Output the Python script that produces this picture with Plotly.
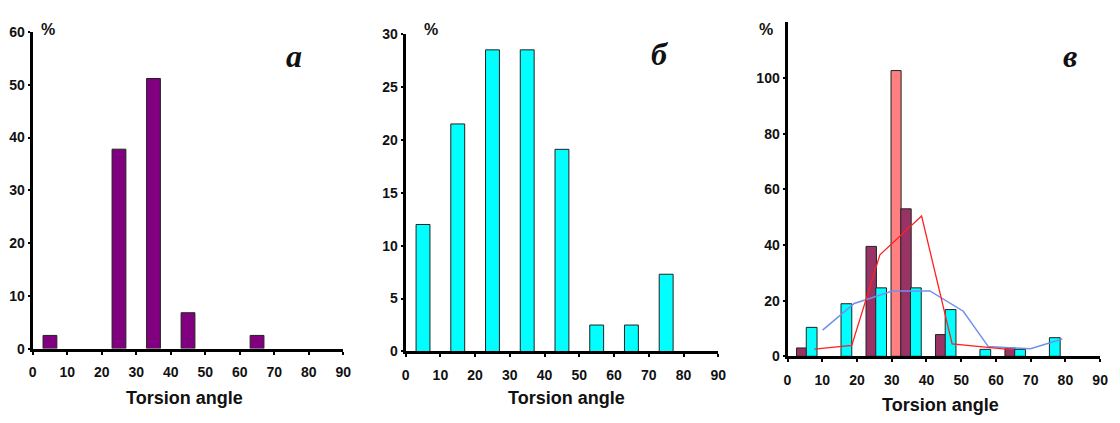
import plotly.graph_objects as go

# ---- data ----
bins = [5, 15, 25, 35, 45, 55, 65, 75]
a_vals = [2.5, None, 37.8, 51.2, 6.8, None, 2.5, None]
b_vals = [12.0, 21.5, 28.5, 28.5, 19.1, 2.5, 2.5, 7.3]
c_maroon = [3.0, None, 39.5, 53.0, 7.8, None, 3.0, None]
c_cyan = [10.4, 18.9, 24.6, 24.6, 16.8, 2.5, 2.5, 6.7]
c_salmon = [None, None, None, 102.7, None, None, None, None]
red_x = [7.7, 18.5, 26.6, 38.6, 47.4, 65.0]
red_y = [2.6, 3.9, 36.5, 50.4, 4.5, 2.3]
blue_x = [10.1, 19.2, 30.2, 41.0, 50.6, 57.8, 70.0, 79.1]
blue_y = [9.4, 19.0, 23.5, 23.5, 16.2, 3.5, 2.7, 6.2]
x_ticks = [0, 10, 20, 30, 40, 50, 60, 70, 80, 90]
xlabel = "Torsion angle"
panel_letters = ["а", "б", "в"]

W, H = 1120, 423
fig = go.Figure()

outline = dict(color="#222222", width=1)
fig.add_trace(go.Bar(x=bins, y=a_vals, width=4, marker=dict(color="#800080", line=outline),
                     xaxis="x", yaxis="y"))
fig.add_trace(go.Bar(x=bins, y=b_vals, width=4, marker=dict(color="#00FFFF", line=outline),
                     xaxis="x2", yaxis="y2"))
fig.add_trace(go.Bar(x=bins, y=c_salmon, width=2.9, offset=-5.2,
                     marker=dict(color="#FF8080", line=outline), xaxis="x3", yaxis="y3"))
fig.add_trace(go.Bar(x=bins, y=c_maroon, width=3.0, offset=-2.4,
                     marker=dict(color="#993366", line=outline), xaxis="x3", yaxis="y3"))
fig.add_trace(go.Bar(x=bins, y=c_cyan, width=3.1, offset=0.4,
                     marker=dict(color="#00FFFF", line=outline), xaxis="x3", yaxis="y3"))
fig.add_trace(go.Scatter(x=blue_x, y=blue_y, mode="lines",
                         line=dict(color="#7090F0", width=1.5), xaxis="x3", yaxis="y3"))
fig.add_trace(go.Scatter(x=red_x, y=red_y, mode="lines",
                         line=dict(color="#FF2020", width=1.3), xaxis="x3", yaxis="y3"))

tfont = dict(family="Liberation Sans Narrow, Liberation Sans", size=14, color="#111111",
             weight="bold")

def px_x(p):
    return p / W

def px_y(p):
    return 1 - p / H

def xax(l, r, anchor):
    return dict(domain=[px_x(l), px_x(r)], range=[0, 90], tickvals=x_ticks,
                showgrid=False, zeroline=False, showline=True, linecolor="black",
                linewidth=3, ticks="outside", ticklen=3, tickwidth=2, tickcolor="black",
                tickfont=tfont, ticklabelstandoff=6, anchor=anchor, fixedrange=True)

def yax(b, t, rng, dtick, anchor, tickvals=None):
    d = dict(domain=[px_y(b), px_y(t)], range=rng, showgrid=False, zeroline=False,
             showline=True, linecolor="black", linewidth=3, ticks="outside", ticklen=2,
             tickwidth=2, tickcolor="black", tickfont=tfont, anchor=anchor, fixedrange=True)
    if tickvals is not None:
        d["tickvals"] = tickvals
    else:
        d["dtick"] = dtick
    return d

fig.update_layout(
    width=W, height=H, margin=dict(l=0, r=0, t=0, b=0),
    paper_bgcolor="white", plot_bgcolor="white", showlegend=False,
    barmode="overlay",
    xaxis=xax(29, 343, "y"),
    yaxis=yax(354, 25, [0, 60], 10, "x"),
    xaxis2=xax(406, 722, "y2"),
    yaxis2=yax(357, 27, [0, 30], 5, "x2"),
    xaxis3=xax(792, 1108, "y3"),
    yaxis3=yax(362, 15, [0, 120], 20, "x3", tickvals=[0, 20, 40, 60, 80, 100]),
)

anns = []
for cx, cy in [(182, 405), (569, 405), (947, 413)]:
    anns.append(dict(x=px_x(cx), y=px_y(cy), xref="paper", yref="paper", text=xlabel,
                     showarrow=False, xanchor="center", yanchor="middle",
                     font=dict(family="Liberation Sans", size=18, color="#111111", weight="bold")))
for cx, cy in [(44, 22), (432, 22), (770, 22)]:
    anns.append(dict(x=px_x(cx), y=px_y(cy), xref="paper", yref="paper", text="%",
                     showarrow=False, xanchor="center", yanchor="middle",
                     font=dict(family="Liberation Sans", size=16, color="#111111", weight="bold")))
for (cx, cy), letter in zip([(293, 50), (663, 48), (1078, 50)], panel_letters):
    anns.append(dict(x=px_x(cx), y=px_y(cy), xref="paper", yref="paper", text=letter,
                     showarrow=False, xanchor="center", yanchor="middle",
                     font=dict(family="Liberation Serif", size=32, color="#111111",
                               weight="bold", style="italic")))
fig.update_layout(annotations=anns)

fig.write_html("out.html")
